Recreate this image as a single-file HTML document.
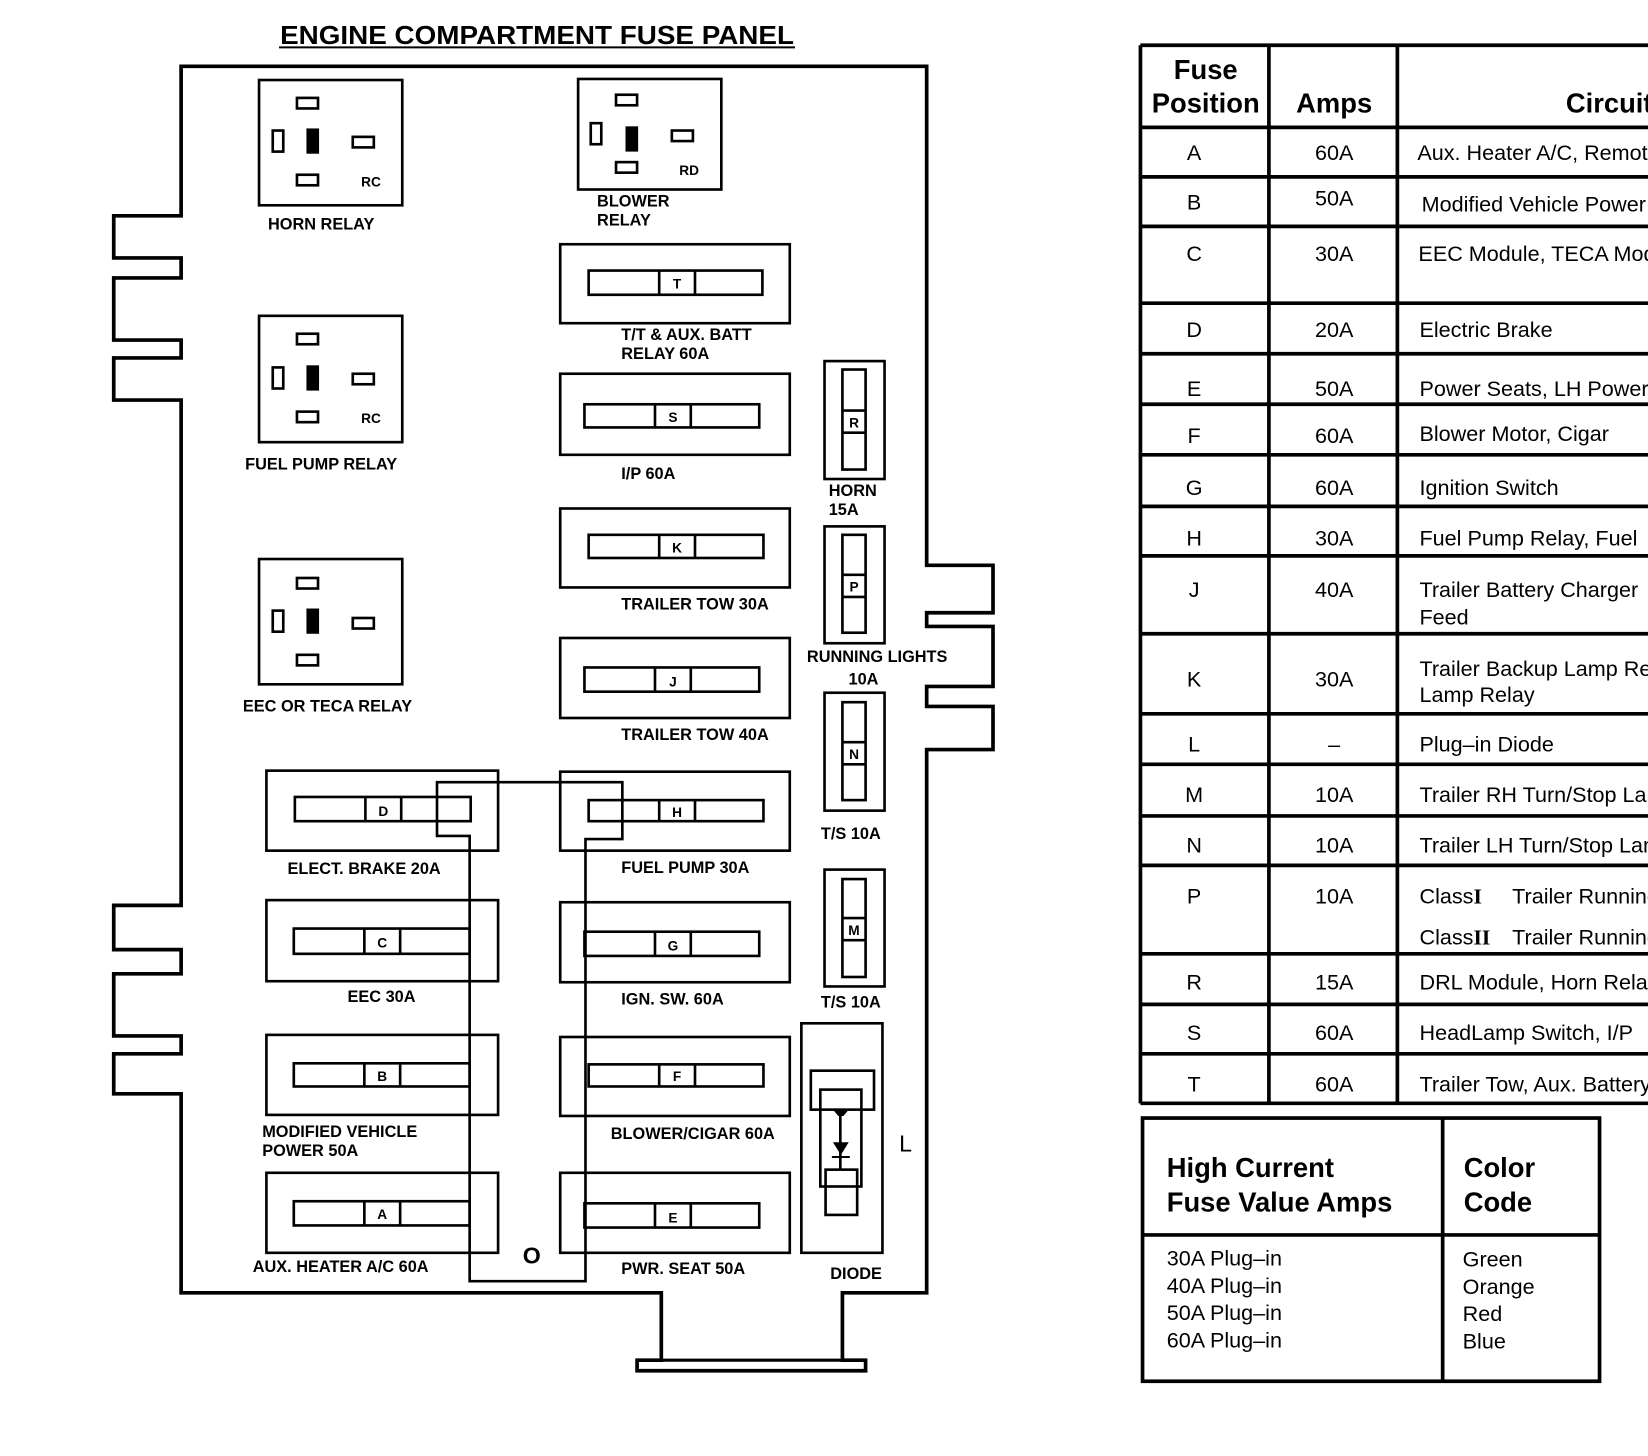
<!DOCTYPE html>
<html><head><meta charset="utf-8"><style>
html,body{margin:0;padding:0;background:#fff;}
svg{display:block;}
text{font-family:"Liberation Sans",sans-serif;fill:#000;}
.lb{font-weight:bold;font-size:15.5px;}
.fl{font-weight:bold;font-size:13px;}
.th{font-weight:bold;font-size:26px;}
.td{font-size:20.5px;}
</style></head><body>
<svg width="1648" height="1456" viewBox="0 0 1565 1383" preserveAspectRatio="none" xmlns="http://www.w3.org/2000/svg">
<rect width="1565" height="1383" fill="#fff"/>
<g fill="none" stroke="#000">
<line x1="265" y1="45" x2="755" y2="45" stroke-width="2"/>
<path stroke-width="3.5" d="M172,63 H880 V537 H943 V582 H880 V595 H943 V652 H880 V671 H943 V712 H880 V1228 H800 V1292 H822 V1302 H605 V1292 H628 V1228 H172 V1039 H108 V1001 H172 V984 H108 V925 H172 V902 H108 V860 H172 V380 H108 V340 H172 V323 H108 V264 H172 V245 H108 V205 H172 Z"/>
<line x1="608" y1="1292" x2="820" y2="1292" stroke-width="3"/>
</g>
<text x="510" y="42" text-anchor="middle" style="font-weight:bold;font-size:25px" textLength="488" lengthAdjust="spacingAndGlyphs">ENGINE COMPARTMENT FUSE PANEL</text>

<g fill="none" stroke="#000" stroke-width="2.5">
<rect x="246" y="76" width="136" height="119"/>
<rect x="282" y="93" width="20" height="10"/><rect x="259" y="124" width="10" height="20"/><rect x="335" y="130" width="20" height="10"/><rect x="282" y="166" width="20" height="10"/>
<rect x="549" y="75" width="136" height="105"/>
<rect x="585" y="90" width="20" height="10"/><rect x="561" y="117" width="10" height="20"/><rect x="638" y="124" width="20" height="10"/><rect x="585" y="154" width="20" height="10"/>
<rect x="246" y="300" width="136" height="120"/>
<rect x="282" y="317" width="20" height="10"/><rect x="259" y="349" width="10" height="20"/><rect x="335" y="355" width="20" height="10"/><rect x="282" y="391" width="20" height="10"/>
<rect x="246" y="531" width="136" height="119"/>
<rect x="282" y="549" width="20" height="10"/><rect x="259" y="580" width="10" height="20"/><rect x="335" y="587" width="20" height="10"/><rect x="282" y="622" width="20" height="10"/>
</g>
<rect x="291" y="122" width="12" height="24"/><rect x="594" y="120" width="12" height="24"/><rect x="291" y="347" width="12" height="24"/><rect x="291" y="578" width="12" height="24"/>
<text x="343" y="177" class="fl">RC</text><text x="645" y="166" class="fl">RD</text><text x="343" y="402" class="fl">RC</text>
<text x="305" y="218" class="lb" text-anchor="middle">HORN RELAY</text>
<text x="567" y="196" class="lb">BLOWER</text><text x="567" y="214" class="lb">RELAY</text>
<text x="305" y="446" class="lb" text-anchor="middle">FUEL PUMP RELAY</text>
<text x="311" y="676" class="lb" text-anchor="middle">EEC OR TECA RELAY</text>

<g fill="none" stroke="#000" stroke-width="2.5">
<rect x="532" y="232" width="218" height="75"/><rect x="559" y="257" width="165" height="23"/><path d="M626,257V280M660,257V280"/>
<rect x="532" y="355" width="218" height="77"/><rect x="555" y="384" width="166" height="22"/><path d="M622,384V406M656,384V406"/>
<rect x="532" y="483" width="218" height="75"/><rect x="559" y="508" width="166" height="22"/><path d="M626,508V530M660,508V530"/>
<rect x="532" y="606" width="218" height="76"/><rect x="555" y="634" width="166" height="23"/><path d="M622,634V657M656,634V657"/>
<rect x="532" y="733" width="218" height="75"/><rect x="559" y="760" width="166" height="20"/><path d="M626,760V780M660,760V780"/>
<rect x="532" y="857" width="218" height="76"/><rect x="555" y="885" width="166" height="23"/><path d="M622,885V908M656,885V908"/>
<rect x="532" y="985" width="218" height="75"/><rect x="559" y="1011" width="166" height="21"/><path d="M626,1011V1032M660,1011V1032"/>
<rect x="532" y="1114" width="218" height="76"/><rect x="555" y="1143" width="166" height="23"/><path d="M622,1143V1166M656,1143V1166"/>
<rect x="253" y="732" width="220" height="76"/><rect x="280" y="757" width="167" height="23"/><path d="M347,757V780M381,757V780"/>
<rect x="253" y="855" width="220" height="77"/><rect x="279" y="882" width="167" height="24"/><path d="M346,882V906M380,882V906"/>
<rect x="253" y="983" width="220" height="76"/><rect x="279" y="1010" width="167" height="22"/><path d="M346,1010V1032M380,1010V1032"/>
<rect x="253" y="1114" width="220" height="76"/><rect x="279" y="1141" width="167" height="23"/><path d="M346,1141V1164M380,1141V1164"/>
<path d="M415,743H591V797H556V1217H446V794H415Z"/>
</g>
<g class="fl" text-anchor="middle">
<text x="643" y="274">T</text><text x="639" y="401">S</text><text x="643" y="525">K</text><text x="639" y="652">J</text>
<text x="643" y="776">H</text><text x="639" y="903">G</text><text x="643" y="1027">F</text><text x="639" y="1161">E</text>
<text x="364" y="775">D</text><text x="363" y="900">C</text><text x="363" y="1027">B</text><text x="363" y="1158">A</text>
</g>
<text x="590" y="323" class="lb">T/T &amp; AUX. BATT</text><text x="590" y="341" class="lb">RELAY 60A</text>
<text x="590" y="455" class="lb">I/P 60A</text>
<text x="590" y="579" class="lb">TRAILER TOW 30A</text>
<text x="590" y="703" class="lb">TRAILER TOW 40A</text>
<text x="590" y="829" class="lb">FUEL PUMP 30A</text>
<text x="590" y="954" class="lb">IGN. SW. 60A</text>
<text x="580" y="1082" class="lb">BLOWER/CIGAR 60A</text>
<text x="590" y="1210" class="lb">PWR. SEAT 50A</text>
<text x="273" y="830" class="lb">ELECT. BRAKE 20A</text>
<text x="330" y="952" class="lb">EEC 30A</text>
<text x="249" y="1080" class="lb">MODIFIED VEHICLE</text><text x="249" y="1098" class="lb">POWER 50A</text>
<text x="240" y="1208" class="lb">AUX. HEATER A/C 60A</text>
<text x="505" y="1200" text-anchor="middle" style="font-weight:bold;font-size:22px">O</text>

<g fill="none" stroke="#000" stroke-width="2.5">
<rect x="783" y="343" width="57" height="112"/><rect x="800" y="351" width="22" height="95"/><path d="M800,390H822M800,411H822"/>
<rect x="783" y="500" width="57" height="111"/><rect x="800" y="508" width="22" height="93"/><path d="M800,546H822M800,567H822"/>
<rect x="783" y="658" width="57" height="112"/><rect x="800" y="667" width="22" height="93"/><path d="M800,705H822M800,726H822"/>
<rect x="783" y="826" width="57" height="111"/><rect x="800" y="835" width="22" height="93"/><path d="M800,872H822M800,893H822"/>
<rect x="761" y="972" width="77" height="218"/>
<rect x="770" y="1017" width="60" height="37"/>
<rect x="779" y="1035" width="39" height="92"/>
<rect x="784" y="1111" width="30" height="43"/>
<path d="M798,1054V1111"/>
</g>
<path d="M791,1054H806L801,1060H796Z" fill="#000"/>
<path d="M791,1085H806L798.5,1097Z M790,1098H807V1100H790Z" fill="#000"/>
<g class="fl" text-anchor="middle">
<text x="811" y="406">R</text><text x="811" y="562">P</text><text x="811" y="721">N</text><text x="811" y="888">M</text>
</g>
<text x="787" y="471" class="lb">HORN</text><text x="787" y="489" class="lb">15A</text>
<text x="833" y="629" class="lb" text-anchor="middle">RUNNING LIGHTS</text><text x="820" y="650" class="lb" text-anchor="middle">10A</text>
<text x="808" y="797" class="lb" text-anchor="middle">T/S 10A</text>
<text x="808" y="957" class="lb" text-anchor="middle">T/S 10A</text>
<text x="813" y="1215" class="lb" text-anchor="middle">DIODE</text>
<text x="860" y="1094" text-anchor="middle" style="font-size:22px">L</text>

<g fill="none" stroke="#000" stroke-width="3.5">
<path d="M1083,43H1570M1083,43V1048M1205,43V1048M1327,43V1048M1083,1048H1570"/>
<path d="M1083,121H1570M1083,168H1570M1083,215H1570M1083,288H1570M1083,336H1570M1083,384H1570M1083,432H1570M1083,481H1570M1083,528H1570M1083,602H1570M1083,678H1570M1083,726H1570M1083,775H1570M1083,822H1570M1083,906H1570M1083,954H1570M1083,1001H1570"/>
</g>
<text x="1145" y="75" class="th" text-anchor="middle">Fuse</text>
<text x="1145" y="107" class="th" text-anchor="middle">Position</text>
<text x="1267" y="107" class="th" text-anchor="middle">Amps</text>
<text x="1487" y="107" class="th">Circuits Protected</text>
<g class="td">
<g text-anchor="middle">
<text x="1134" y="152">A</text><text x="1267" y="152">60A</text>
<text x="1134" y="199">B</text><text x="1267" y="195">50A</text>
<text x="1134" y="248">C</text><text x="1267" y="248">30A</text>
<text x="1134" y="320">D</text><text x="1267" y="320">20A</text>
<text x="1134" y="376">E</text><text x="1267" y="376">50A</text>
<text x="1134" y="421">F</text><text x="1267" y="421">60A</text>
<text x="1134" y="470">G</text><text x="1267" y="470">60A</text>
<text x="1134" y="518">H</text><text x="1267" y="518">30A</text>
<text x="1134" y="567">J</text><text x="1267" y="567">40A</text>
<text x="1134" y="652">K</text><text x="1267" y="652">30A</text>
<text x="1134" y="714">L</text><text x="1267" y="714">–</text>
<text x="1134" y="762">M</text><text x="1267" y="762">10A</text>
<text x="1134" y="810">N</text><text x="1267" y="810">10A</text>
<text x="1134" y="858">P</text><text x="1267" y="858">10A</text>
<text x="1134" y="940">R</text><text x="1267" y="940">15A</text>
<text x="1134" y="988">S</text><text x="1267" y="988">60A</text>
<text x="1134" y="1037">T</text><text x="1267" y="1037">60A</text>
</g>
<text x="1346" y="152">Aux. Heater A/C, Remote</text>
<text x="1350" y="201">Modified Vehicle Power</text>
<text x="1347" y="248">EEC Module, TECA Module</text>
<text x="1348" y="320">Electric Brake</text>
<text x="1348" y="376">Power Seats, LH Power</text>
<text x="1348" y="419">Blower Motor, Cigar</text>
<text x="1348" y="470">Ignition Switch</text>
<text x="1348" y="518">Fuel Pump Relay, Fuel</text>
<text x="1348" y="567">Trailer Battery Charger</text><text x="1348" y="593">Feed</text>
<text x="1348" y="642">Trailer Backup Lamp Relay</text><text x="1348" y="667">Lamp Relay</text>
<text x="1348" y="714">Plug–in Diode</text>
<text x="1348" y="762">Trailer RH Turn/Stop Lamp</text>
<text x="1348" y="810">Trailer LH Turn/Stop Lamp</text>
<text x="1348" y="858">Class<tspan font-weight="bold" font-family="Liberation Serif">I</tspan></text><text x="1436" y="858">Trailer Running</text>
<text x="1348" y="897">Class<tspan font-weight="bold" font-family="Liberation Serif">II</tspan></text><text x="1436" y="897">Trailer Running</text>
<text x="1348" y="940">DRL Module, Horn Relay</text>
<text x="1348" y="988">HeadLamp Switch, I/P</text>
<text x="1348" y="1037">Trailer Tow, Aux. Battery</text>
</g>

<g fill="none" stroke="#000" stroke-width="3.5">
<rect x="1085" y="1062" width="434" height="250"/>
<path d="M1370,1062V1312M1085,1173H1519"/>
</g>
<text x="1108" y="1118" class="th">High Current</text>
<text x="1108" y="1151" class="th">Fuse Value Amps</text>
<text x="1390" y="1118" class="th">Color</text>
<text x="1390" y="1151" class="th">Code</text>
<g class="td">
<text x="1108" y="1202">30A Plug–in</text><text x="1108" y="1228">40A Plug–in</text><text x="1108" y="1254">50A Plug–in</text><text x="1108" y="1280">60A Plug–in</text>
<text x="1389" y="1203">Green</text><text x="1389" y="1229">Orange</text><text x="1389" y="1255">Red</text><text x="1389" y="1281">Blue</text>
</g>
</svg>
</body></html>
